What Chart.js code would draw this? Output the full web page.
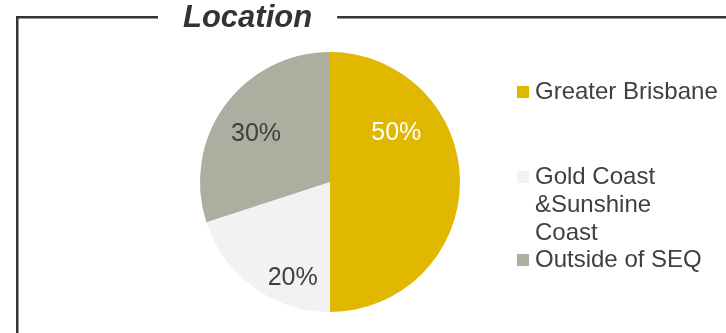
<!DOCTYPE html>
<html>
<head>
<meta charset="utf-8">
<title>Location</title>
<script src="https://cdn.jsdelivr.net/npm/chart.js@4.4.1/dist/chart.umd.min.js"></script>
<style>
  html, body { margin: 0; padding: 0; background: #ffffff; }
  #wrap { position: relative; width: 726px; height: 333px; }
</style>
</head>
<body>
<div id="wrap"><canvas id="pie"></canvas></div>
<script>
// Share of respondents by location
const categories = ['Greater Brisbane', 'Gold Coast &Sunshine Coast', 'Outside of SEQ'];
const shares = [50, 20, 30];
const legendLines = [['Greater Brisbane'], ['Gold Coast', '&Sunshine', 'Coast'], ['Outside of SEQ']];
const chartTitle = 'Location';

const sliceColors = ['#E0B800', '#F2F2F2', '#ADAE9F'];
const labelColors = ['#FFFFFF', '#404040', '#404040'];
const FONT = '"Liberation Sans", Arial, Helvetica, sans-serif';

// Where each percentage sits inside its slice: fraction of the slice's sweep, fraction of radius
const labelPlacement = [
  { sweep: 0.29, radius: 0.645 },
  { sweep: 0.30, radius: 0.78 },
  { sweep: 0.48, radius: 0.685 }
];

// Frame with the title breaking the top rule
const framePlugin = {
  id: 'frame',
  beforeDraw(chart) {
    const ctx = chart.ctx;
    ctx.save();
    ctx.fillStyle = '#333333';
    ctx.font = 'italic bold 31px ' + FONT;
    ctx.textBaseline = 'alphabetic';
    const titleX = 183;
    const w = ctx.measureText(chartTitle).width;
    const gap = 25;
    const lineY = 16;
    const t = 2.5;
    ctx.fillRect(16, lineY, t, chart.height - lineY);
    ctx.fillRect(16, lineY, titleX - gap - 16, t);
    ctx.fillRect(titleX + w + gap, lineY, chart.width - (titleX + w + gap), t);
    ctx.fillText(chartTitle, titleX, 27);
    ctx.restore();
  }
};

// Percent labels placed inside the slices
const sliceLabels = {
  id: 'sliceLabels',
  afterDatasetsDraw(chart) {
    const ctx = chart.ctx;
    const meta = chart.getDatasetMeta(0);
    const fs = 25;
    ctx.save();
    ctx.font = fs + 'px ' + FONT;
    ctx.textAlign = 'center';
    ctx.textBaseline = 'alphabetic';
    meta.data.forEach((arc, i) => {
      const p = arc.getProps(['x', 'y', 'startAngle', 'endAngle', 'outerRadius'], true);
      const place = labelPlacement[i];
      const a = p.startAngle + (p.endAngle - p.startAngle) * place.sweep;
      const r = p.outerRadius * place.radius;
      const cx = p.x + Math.cos(a) * r;
      const cy = p.y + Math.sin(a) * r;
      ctx.fillStyle = labelColors[i];
      ctx.fillText(shares[i] + '%', cx, cy + fs * 0.358);
    });
    ctx.restore();
  }
};

// Legend at the right, entries spaced as in the report layout
const sideLegend = {
  id: 'sideLegend',
  afterDraw(chart) {
    const ctx = chart.ctx;
    const fs = 24;
    const lineH = 28;
    const x = 517;
    const firstBaselines = [99, 184, 267];
    ctx.save();
    ctx.font = fs + 'px ' + FONT;
    ctx.textAlign = 'left';
    ctx.textBaseline = 'alphabetic';
    legendLines.forEach((lines, i) => {
      const base = firstBaselines[i];
      ctx.fillStyle = sliceColors[i];
      ctx.fillRect(x, base - 13, 12, 12);
      ctx.fillStyle = '#404040';
      lines.forEach((t, k) => ctx.fillText(t, x + 18, base + k * lineH));
    });
    ctx.restore();
  }
};

new Chart(document.getElementById('pie'), {
  type: 'pie',
  data: {
    labels: categories,
    datasets: [{
      data: shares,
      backgroundColor: sliceColors,
      borderWidth: 0
    }]
  },
  options: {
    responsive: true,
    maintainAspectRatio: false,
    devicePixelRatio: 1,
    animation: false,
    layout: { padding: { left: 200, right: 266, top: 52, bottom: 21 } },
    plugins: {
      legend: { display: false },
      title: { display: false },
      tooltip: { enabled: false }
    }
  },
  plugins: [framePlugin, sliceLabels, sideLegend]
});
</script>
</body>
</html>
